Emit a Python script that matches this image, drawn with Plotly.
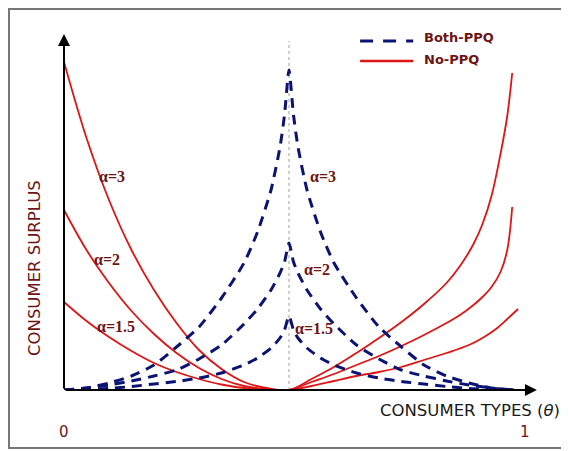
import plotly.graph_objects as go

# ---------------- data ----------------
theta_red = [0, 0.05, 0.1, 0.15, 0.2, 0.25, 0.3, 0.35, 0.4, 0.45, 0.5,
             0.55, 0.6, 0.65, 0.7, 0.75, 0.8, 0.85, 0.88, 0.91, 0.93, 0.95, 0.97, 0.985, 0.996]
nopp_a3 = [3.28, 2.52, 1.90, 1.40, 1.00, 0.67, 0.40, 0.21, 0.08, 0.02, 0.0,
           0.11, 0.23, 0.37, 0.52, 0.68, 0.86, 1.07, 1.24, 1.46, 1.66, 1.94, 2.36, 2.74, 3.17]
nopp_a2 = [1.80, 1.40, 1.07, 0.79, 0.56, 0.37, 0.22, 0.11, 0.04, 0.01, 0.0,
           0.08, 0.16, 0.25, 0.34, 0.44, 0.55, 0.67, 0.75, 0.85, 0.93, 1.03, 1.18, 1.40, 1.83]
theta_red_15 = [0, 0.05, 0.1, 0.15, 0.2, 0.25, 0.3, 0.35, 0.4, 0.45, 0.5,
                0.55, 0.6, 0.65, 0.7, 0.75, 0.8, 0.85, 0.9, 0.93, 0.96, 0.985, 1.009]
nopp_a15 = [0.88, 0.69, 0.53, 0.39, 0.27, 0.18, 0.11, 0.055, 0.02, 0.005, 0.0,
            0.04, 0.09, 0.14, 0.18, 0.23, 0.30, 0.37, 0.45, 0.52, 0.61, 0.71, 0.81]

theta_blue = [0, 0.05, 0.1, 0.15, 0.2, 0.25, 0.3, 0.35, 0.4, 0.43, 0.46, 0.48, 0.49, 0.5,
              0.51, 0.52, 0.54, 0.57, 0.6, 0.65, 0.7, 0.75, 0.8, 0.85, 0.9, 0.95, 1.0]
both_a3 = [0.0, 0.02, 0.07, 0.14, 0.25, 0.43, 0.63, 0.92, 1.27, 1.58, 2.00, 2.43, 2.75, 3.20,
           2.75, 2.43, 2.00, 1.58, 1.27, 0.92, 0.63, 0.43, 0.25, 0.14, 0.07, 0.02, 0.0]
both_a2 = [0.0, 0.02, 0.05, 0.09, 0.14, 0.20, 0.31, 0.45, 0.66, 0.81, 1.00, 1.17, 1.28, 1.47,
           1.28, 1.17, 1.00, 0.81, 0.66, 0.45, 0.31, 0.20, 0.14, 0.09, 0.05, 0.02, 0.0]
both_a15 = [0.0, 0.005, 0.015, 0.035, 0.06, 0.085, 0.12, 0.17, 0.25, 0.32, 0.42, 0.52, 0.60, 0.74,
            0.60, 0.52, 0.42, 0.32, 0.25, 0.17, 0.12, 0.085, 0.06, 0.035, 0.015, 0.005, 0.0]

alpha_labels = ["α=3", "α=2", "α=1.5"]
label_left_theta = [0.107, 0.095, 0.115]
label_left_y = [2.14, 1.31, 0.64]
label_right_theta = [0.575, 0.562, 0.556]
label_right_y = [2.14, 1.21, 0.62]

x_tick_labels = ["0", "1"]
legend_names = ["Both-PPQ", "No-PPQ"]

RED = "#dd1515"
BLUE = "#0c1473"
MAROON = "#6e1414"

fig = go.Figure()

# center dotted line
fig.add_trace(go.Scatter(x=[0.5, 0.5], y=[0, 3.49], mode="lines",
                         line=dict(color="#a0a0a0", width=1, dash="dot"),
                         hoverinfo="skip", showlegend=False))

for ys, th in [(nopp_a3, theta_red), (nopp_a2, theta_red), (nopp_a15, theta_red_15)]:
    fig.add_trace(go.Scatter(x=th, y=ys, mode="lines",
                             line=dict(color=RED, width=1.8, shape="spline", smoothing=1.0),
                             showlegend=False))
for ys in [both_a3, both_a2, both_a15]:
    fig.add_trace(go.Scatter(x=theta_blue, y=ys, mode="lines",
                             line=dict(color=BLUE, width=3, dash="10px,7px", shape="spline", smoothing=0.6),
                             showlegend=False))

ann = []
# axes with arrows
ann.append(dict(x=1.051, y=0, xref="x", yref="y", ax=-473, ay=0, text="", showarrow=True,
                arrowhead=2, arrowsize=1.2, arrowwidth=2, arrowcolor="black", standoff=0))
ann.append(dict(x=0, y=3.56, xref="x", yref="y", ax=0, ay=356, text="", showarrow=True,
                arrowhead=2, arrowsize=1.2, arrowwidth=2, arrowcolor="black", standoff=0))

for i, lab in enumerate(alpha_labels):
    for tx, ty in [(label_left_theta[i], label_left_y[i]), (label_right_theta[i], label_right_y[i])]:
        ann.append(dict(x=tx, y=ty, xref="x", yref="y", text="<b>" + lab + "</b>", showarrow=False,
                        xanchor="center", yanchor="middle",
                        font=dict(family="Liberation Serif", size=16, color=MAROON)))

# tick labels
ann.append(dict(x=0, y=-0.1167, xref="paper", yref="paper", text=x_tick_labels[0], showarrow=False,
                xanchor="center", yanchor="middle",
                font=dict(family="DejaVu Sans", size=15, color=MAROON)))
ann.append(dict(x=0.9665, y=-0.1167, xref="paper", yref="paper", text=x_tick_labels[1], showarrow=False,
                xanchor="center", yanchor="middle",
                font=dict(family="DejaVu Sans", size=15, color=MAROON)))

# axis titles
ann.append(dict(x=-0.0608, y=0.339, xref="paper", yref="paper", text="CONSUMER SURPLUS", textangle=-90,
                xanchor="center", yanchor="middle",
                showarrow=False, font=dict(family="DejaVu Sans", size=16.5, color=MAROON)))
ann.append(dict(x=0.851, y=-0.0583, xref="paper", yref="paper", text="CONSUMER TYPES (<i>θ</i>)",
                xanchor="center", yanchor="middle",
                showarrow=False, font=dict(family="DejaVu Sans", size=16.5, color="#1a1a1a")))

# legend
ann.append(dict(x=0.796, y=3.53, xref="x", yref="y", text="<b>" + legend_names[0] + "</b>", showarrow=False,
                xanchor="left", yanchor="middle", font=dict(family="DejaVu Sans", size=13, color=MAROON)))
ann.append(dict(x=0.796, y=3.31, xref="x", yref="y", text="<b>" + legend_names[1] + "</b>", showarrow=False,
                xanchor="left", yanchor="middle", font=dict(family="DejaVu Sans", size=13, color=MAROON)))

shapes = [
    dict(type="line", xref="x", yref="y", x0=0.658, x1=0.776, y0=3.49, y1=3.49,
         line=dict(color=BLUE, width=3, dash="13px,10px")),
    dict(type="line", xref="x", yref="y", x0=0.658, x1=0.776, y0=3.29, y1=3.29,
         line=dict(color=RED, width=2.5)),
    dict(type="rect", xref="paper", yref="paper", x0=-0.1153, x1=1.0524, y0=-0.1611, y1=1.0583,
         line=dict(color="#777777", width=2), fillcolor="rgba(0,0,0,0)", layer="below"),
]

# page body has an 8px margin: shift the figure content up/left by 8px
fig.update_layout(
    width=569, height=451, autosize=False,
    margin=dict(l=56, r=36, t=22, b=69),
    plot_bgcolor="white", paper_bgcolor="white",
    xaxis=dict(range=[0, 1.06], visible=False, fixedrange=True),
    yaxis=dict(range=[0, 3.6], visible=False, fixedrange=True),
    annotations=ann, shapes=shapes, showlegend=False,
)

fig.write_html("out.html")
